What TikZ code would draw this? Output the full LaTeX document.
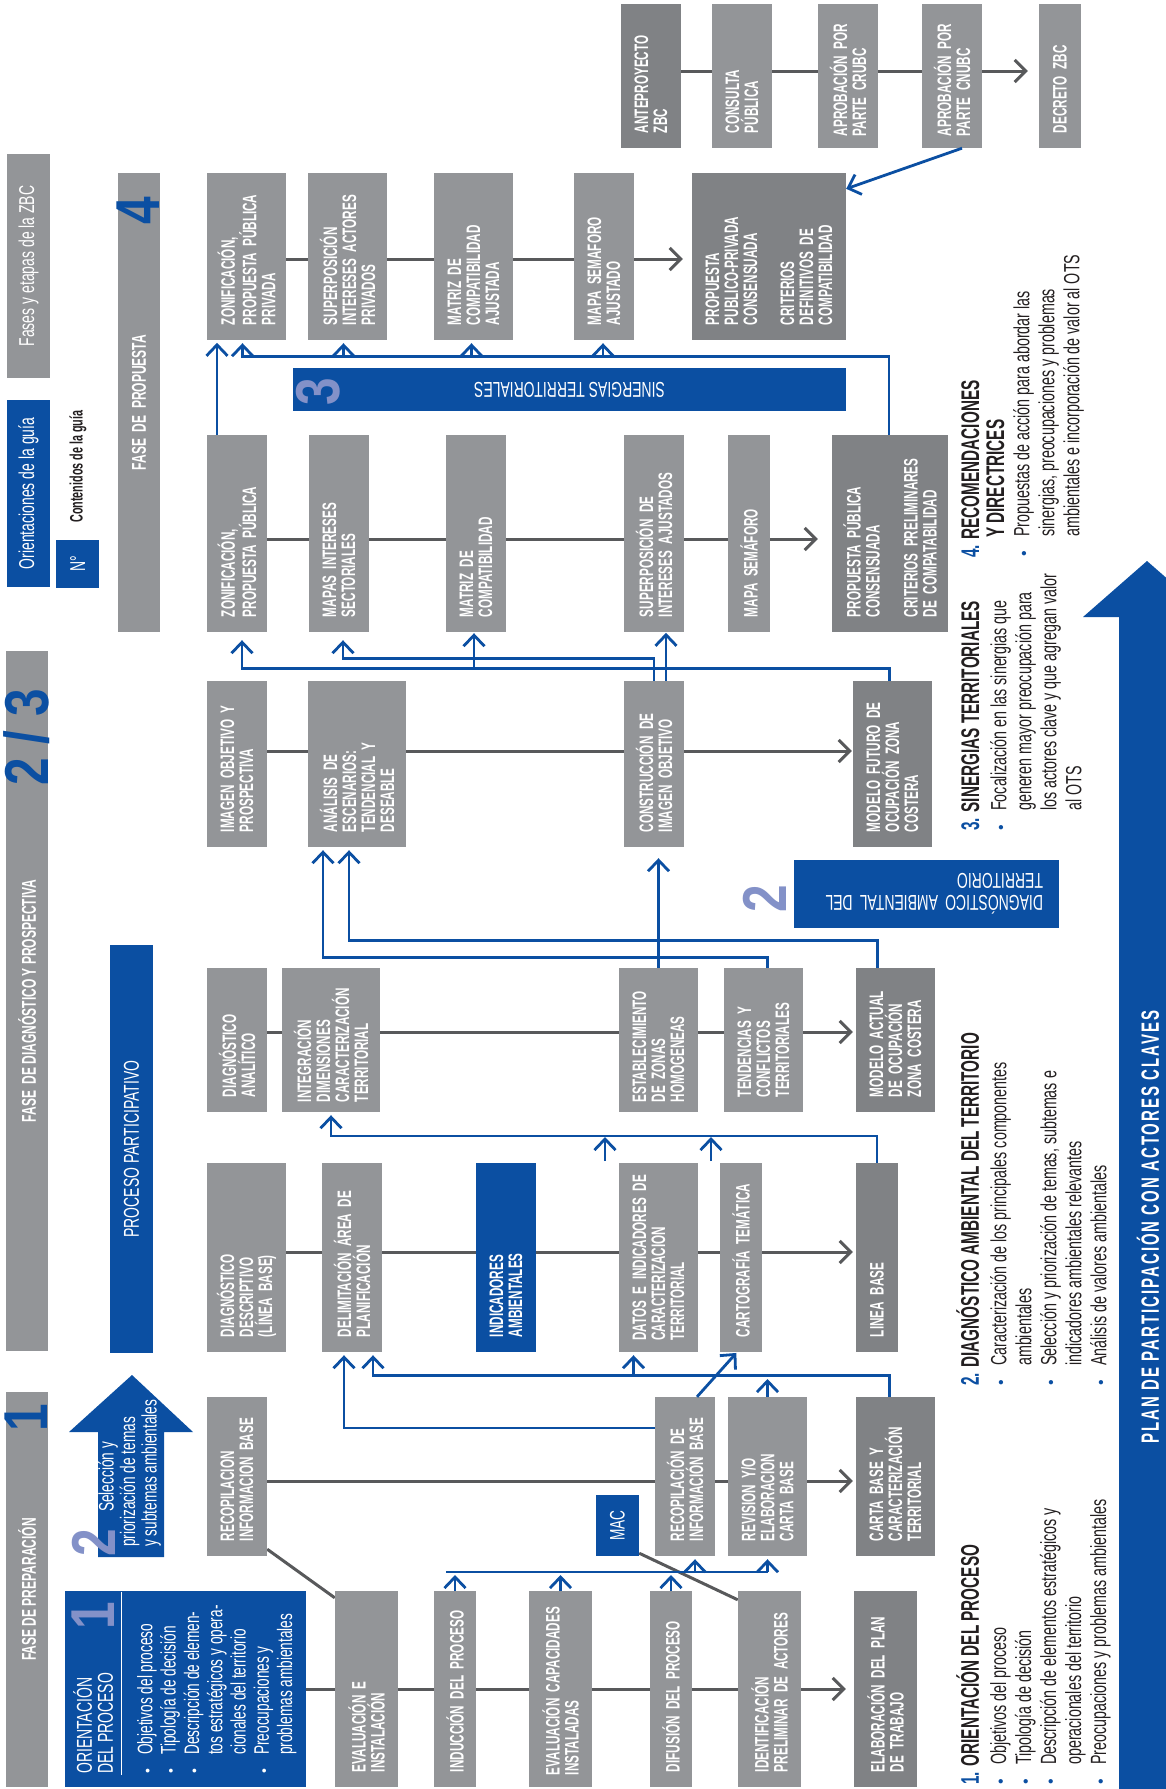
\documentclass[tikz,border=0pt]{standalone}
\usepackage{fontspec}
\setmainfont{Liberation Sans}
\newfontfamily\plainfont{Liberation Sans}
\newfontfamily\condb{Liberation Sans}[FakeStretch=0.6]
\newfontfamily\condl{Liberation Sans}[FakeStretch=0.65]
\newfontfamily\condn{Liberation Sans}[FakeStretch=0.8]
\newfontfamily\condsp{Liberation Sans}[FakeStretch=0.6,LetterSpace=8]
\usetikzlibrary{arrows.meta}
\pgfdeclarelayer{background}
\pgfsetlayers{background,main}

\definecolor{boxgray}{HTML}{939598}
\definecolor{boxdark}{HTML}{808285}
\definecolor{guiablue}{HTML}{0B4FA2}
\definecolor{numlilac}{HTML}{8391C8}
\definecolor{linegray}{HTML}{58595B}
\definecolor{inkblack}{HTML}{231F20}

\newcommand{\boxfont}{\condb\bfseries\fontsize{19.5}{19}\selectfont}
\newcommand{\barfont}{\condb\bfseries\fontsize{20}{20}\selectfont}
\newcommand{\lightfont}{\condl\fontsize{21.5}{22}\selectfont}
\newcommand{\headfont}{\condb\bfseries\fontsize{25.5}{25}\selectfont}
\newcommand{\bodyfont}{\condl\fontsize{22}{25}\selectfont}
\newcommand{\numfont}{\condn\bfseries\fontsize{62}{62}\selectfont}
\newcommand{\planfont}{\condsp\bfseries\fontsize{25}{25}\selectfont}
\newcommand{\itemdot}{\makebox[20pt][l]{\textcolor{guiablue}{\plainfont\fontsize{16}{16}\selectfont\textbullet}}}
\newcommand{\itemgap}{\hspace*{20pt}}
\newcommand{\wdot}{\makebox[19pt][l]{\plainfont\fontsize{14}{14}\selectfont\textbullet}}

\begin{document}
\begin{tikzpicture}[x=1pt, y=-1pt,
    gbox/.style={rotate=90, fill=boxgray, text=white, font=\boxfont, align=left, inner sep=0pt},
    dbox/.style={gbox, fill=boxdark},
    bbox/.style={gbox, fill=guiablue},
    bar/.style={rotate=90, inner sep=0pt, text=white, align=center},
    bignum/.style={rotate=90, inner sep=0pt, font=\numfont},
    txt/.style={rotate=90, inner sep=0pt, align=left, anchor=north west, text=inkblack},
    gline/.style={draw=linegray, line width=3pt},
    garrow/.style={gline, -{Straight Barb[length=11pt, width=22pt]}, shorten >=3pt},
    bline/.style={draw=guiablue, line width=2.8pt},
    barrow/.style={bline, -{Straight Barb[length=11pt, width=21pt]}, shorten >=3pt},
    % box heights (rows) and widths
    hA/.style={minimum width=144pt, text width=114pt},
    hB/.style={minimum width=167pt, text width=137pt},
    hC/.style={minimum width=197pt, text width=167pt},
    hD/.style={minimum width=166pt, text width=136pt},
    hE/.style={minimum width=144pt, text width=114pt},
    hF/.style={minimum width=189pt, text width=159pt},
    hG/.style={minimum width=159pt, text width=129pt},
    hH/.style={minimum width=196pt, text width=166pt},
    w42/.style={minimum height=42pt},
    w60/.style={minimum height=60pt},
    w63/.style={minimum height=63pt},
    w79/.style={minimum height=79pt},
    w98/.style={minimum height=98pt},
    w116/.style={minimum height=116pt},
    w154/.style={minimum height=154pt}]

\useasboundingbox (0,0) rectangle (1166,1789);

% rows and buses
\coordinate (rowA) at (0,71);
\coordinate (rowB) at (0,259);
\coordinate (rowC) at (0,539);
\coordinate (rowD) at (0,751);
\coordinate (rowE) at (0,1032);
\coordinate (rowF) at (0,1252);
\coordinate (rowG) at (0,1481);
\coordinate (rowH) at (0,1689);
\coordinate (busE) at (0,1136);
\coordinate (busF) at (0,1376);
\coordinate (busF2) at (0,1428);
\coordinate (busG) at (0,1572);
\coordinate (stubA) at (605,1161);
\coordinate (stubB) at (711,1161);

% left column: legend and phases
\node[bar, fill=boxgray, minimum width=224pt, minimum height=43pt, font=\lightfont] (fases) at (28.5,266) {Fases y etapas de la ZBC};
\node[bar, fill=guiablue, minimum width=187pt, minimum height=43pt, font=\lightfont] (guia) at (28.5,493.5) {Orientaciones de la guía};
\node[bar, fill=guiablue, minimum width=48pt, minimum height=43pt, font=\lightfont] (numbox) at (77.5,564) {N°};
\node[bar, text=inkblack, font=\condb\bfseries\fontsize{18}{18}\selectfont] (contenidos) at (78,466.5) {Contenidos de la guía};

\node[bar, fill=boxgray, minimum width=459pt, minimum height=42pt, font=\barfont] (fprop) at (139,402.5) {FASE\ \ DE\ \ PROPUESTA};
\node[bignum, text=guiablue] (n4) at (138.5,211) {4};
\node[bar, fill=boxgray, minimum width=700pt, minimum height=42pt, font=\barfont] (fdiag) at (27,1001) {FASE\ \ DE DIAGNÓSTICO Y PROSPECTIVA};
\node[bignum, text=guiablue] (n23) at (26.5,737.5) {2 / 3};
\node[bar, fill=guiablue, minimum width=408pt, minimum height=43pt, font=\lightfont] (proc) at (131.5,1149) {PROCESO PARTICIPATIVO};
\node[bar, fill=boxgray, minimum width=395pt, minimum height=42pt, font=\barfont] (fprep) at (27,1589.5) {FASE DE PREPARACIÓN};
\node[bignum, text=guiablue] (n1) at (26.5,1417.5) {1};

% arrow "seleccion y priorizacion"
\fill[guiablue] (132,1375) -- (193,1432) -- (164,1432) -- (164,1557) -- (98,1557) -- (98,1432) -- (69,1432) -- cycle;
\node[bignum, text=numlilac] (n2a) at (93.5,1542.5) {2};
\node[txt, text=white, font=\condl\fontsize{21}{21.5}\selectfont] (selec) at (98,1547) {\hspace*{35pt}Selección y\\priorización de temas\\y subtemas ambientales};

% orientacion del proceso
\node[rotate=90, fill=guiablue, minimum width=196pt, minimum height=241pt, inner sep=0pt] (orient) at (185.5,1689) {};
\node[bignum, text=numlilac] (n1b) at (93.5,1616) {1};
\node[txt, text=white, font=\condl\fontsize{21.5}{21}\selectfont] (orienttit) at (73,1774) {ORIENTACIÓN\\DEL PROCESO};
\draw[white, line width=1pt] ([xshift=57pt, yshift=-1pt]orient.north east) -- ([xshift=57pt, yshift=12pt]orient.north west);
\node[txt, text=white, font=\condl\fontsize{21}{23.3}\selectfont] (orientlist) at (137,1774) {\wdot Objetivos del proceso\\ \wdot Tipología de decisión\\ \wdot Descripción de elemen-\\ \hspace*{19pt}tos estratégicos y opera-\\ \hspace*{19pt}cionales del territorio\\ \wdot Preocupaciones y\\ \hspace*{19pt}problemas ambientales};

% row A: aprobacion
\node[dbox, hA, w60] (antep) at (651,76) {ANTEPROYECTO\\ZBC};
\node[gbox, hA, w60] (consulta) at (742,76) {CONSULTA\\PÚBLICA};
\node[gbox, hA, w60, text width=120pt] (crubc) at (848,76) {APROBACIÓN POR\\PARTE CRUBC};
\node[gbox, hA, w60, text width=120pt] (cnubc) at (952,76) {APROBACIÓN POR\\PARTE CNUBC};
\node[gbox, hA, w42] (decreto) at (1060,76) {DECRETO ZBC};

% row B
\node[gbox, hB, w79] (zonppp) at (246.5,256.5) {ZONIFICACIÓN,\\PROPUESTA PÚBLICA\\PRIVADA};
\node[gbox, hB, w79] (supiap) at (347.5,256.5) {SUPERPOSICIÓN\\INTERESES ACTORES\\PRIVADOS};
\node[gbox, hB, w79] (matajus) at (473.5,256.5) {MATRIZ DE\\COMPATIBILIDAD\\AJUSTADA};
\node[gbox, hB, w60] (mapaajus) at (604,256.5) {MAPA SEMAFORO\\AJUSTADO};
\node[dbox, hB, w154] (propppc) at (769,256.5) {PROPUESTA\\PUBLICO-PRIVADA\\CONSENSUADA\\[18pt]CRITERIOS\\DEFINITIVOS DE\\COMPATIBILIDAD};

% sinergias
\node[rotate=180, fill=guiablue, minimum width=553pt, minimum height=43pt, inner sep=0pt, text=white, font=\lightfont] (siner) at (569.5,389.5) {SINERGIAS TERRITORIALES};
\node[bignum, text=numlilac] (n3) at (318.5,391.5) {3};

% row C
\node[gbox, hC, w60] (zonpp) at (237,533.5) {ZONIFICACIÓN,\\PROPUESTA PÚBLICA};
\node[gbox, hC, w60] (mapasis) at (339,533.5) {MAPAS INTERESES\\SECTORIALES};
\node[gbox, hC, w60] (matriz) at (476,533.5) {MATRIZ DE\\COMPATIBILIDAD};
\node[gbox, hC, w60] (supia) at (654,533.5) {SUPERPOSICIÓN DE\\INTERESES AJUSTADOS};
\node[gbox, hC, w42] (semaforo) at (749,533.5) {MAPA SEMÁFORO};
\node[dbox, hC, w116] (proppc) at (890,533.5) {PROPUESTA PÚBLICA\\CONSENSUADA\\[19pt]CRITERIOS PRELIMINARES\\DE COMPATABILIDAD};

% row D
\node[gbox, hD, w60] (imgobj) at (237,764) {IMAGEN OBJETIVO Y\\PROSPECTIVA};
\node[gbox, hD, w98] (analisis) at (357,764) {ANÁLISIS DE\\ESCENARIOS:\\TENDENCIAL Y\\DESEABLE};
\node[gbox, hD, w60] (construccion) at (654,764) {CONSTRUCCIÓN DE\\IMAGEN OBJETIVO};
\node[dbox, hD, w79] (modfut) at (892.5,764) {MODELO FUTURO DE\\OCUPACIÓN ZONA\\COSTERA};

% diagnostico ambiental
\node[rotate=180, fill=guiablue, minimum width=265pt, minimum height=68pt, inner sep=0pt, text width=233pt, align=left, text=white, font=\condl\fontsize{21.5}{22}\selectfont] (diagbox) at (926.5,894) {DIAGNÓSTICO AMBIENTAL DEL\\TERRITORIO};
\node[bignum, text=numlilac] (n2b) at (765,899) {2};

% row E
\node[gbox, hE, w60] (diaganal) at (237,1040) {DIAGNÓSTICO\\ANALÍTICO};
\node[gbox, hE, w98, text width=124pt] (integracion) at (331,1040) {INTEGRACIÓN\\DIMENSIONES\\CARACTERIZACIÓN\\TERRITORIAL};
\node[gbox, hE, w79, text width=124pt] (establec) at (658.5,1040) {ESTABLECIMIENTO\\DE ZONAS\\HOMOGENEAS};
\node[gbox, hE, w79] (tendencias) at (763.5,1040) {TENDENCIAS Y\\CONFLICTOS\\TERRITORIALES};
\node[dbox, hE, w79] (modact) at (895.5,1040) {MODELO ACTUAL\\DE OCUPACIÓN\\ZONA COSTERA};

% row F
\node[gbox, hF, w79] (diagdesc) at (246.5,1257.5) {DIAGNÓSTICO\\DESCRIPTIVO\\(LÍNEA BASE)};
\node[gbox, hF, w60] (delimit) at (352,1257.5) {DELIMITACIÓN ÁREA DE\\PLANIFICACIÓN};
\node[bbox, hF, w60] (indic) at (506,1257.5) {INDICADORES\\AMBIENTALES};
\node[gbox, hF, w79, text width=166pt] (datos) at (658.5,1257.5) {DATOS E INDICADORES DE\\CARACTERIZACION\\TERRITORIAL};
\node[gbox, hF, w42] (carto) at (741,1257.5) {CARTOGRAFÍA TEMÁTICA};
\node[dbox, hF, w42] (lineabase) at (877,1257.5) {LINEA BASE};

% row G
\node[gbox, hG, w60] (recop) at (237,1476.5) {RECOPILACION\\INFORMACION BASE};
\node[rotate=90, fill=guiablue, minimum width=61pt, minimum height=43pt, inner sep=0pt, text=white, font=\condl\fontsize{21}{21}\selectfont] (mac) at (617.5,1525.5) {MAC};
\node[gbox, hG, w60] (recopde) at (685,1476.5) {RECOPILACIÓN DE\\INFORMACIÓN BASE};
\node[gbox, hG, w79] (revision) at (767.5,1476.5) {REVISION Y/O\\ELABORACION\\CARTA BASE};
\node[dbox, hG, w79] (cartabase) at (895.5,1476.5) {CARTA BASE Y\\CARACTERIZACIÓN\\TERRITORIAL};

% row H
\node[gbox, hH, w63] (evalinst) at (366.5,1689) {EVALUACIÓN E\\INSTALACIÓN};
\node[gbox, hH, w42] (induccion) at (455,1689) {INDUCCIÓN DEL PROCESO};
\node[gbox, hH, w63, text width=172pt] (evalcap) at (560.5,1689) {EVALUACIÓN CAPACIDADES\\INSTALADAS};
\node[gbox, hH, w42] (difusion) at (671,1689) {DIFUSIÓN DEL PROCESO};
\node[gbox, hH, w63] (identif) at (769.5,1689) {IDENTIFICACIÓN\\PRELIMINAR DE ACTORES};
\node[dbox, hH, w63] (elabor) at (885.5,1689) {ELABORACIÓN DEL PLAN\\DE TRABAJO};

% gray flow lines behind the boxes
\begin{pgfonlayer}{background}
  \draw[gline] (antep.center |- rowA) -- (cnubc.center |- rowA);
  \draw[gline] (zonppp.center |- rowB) -- (mapaajus.center |- rowB);
  \draw[gline] (zonpp.center |- rowC) -- (semaforo.center |- rowC);
  \draw[gline] (imgobj.center |- rowD) -- (construccion.center |- rowD);
  \draw[gline] (diaganal.center |- rowE) -- (tendencias.center |- rowE);
  \draw[gline] (diagdesc.center |- rowF) -- (carto.center |- rowF);
  \draw[gline] (recop.center |- rowG) -- (revision.center |- rowG);
  \draw[gline] (orient.center |- rowH) -- (identif.center |- rowH);
  \draw[gline] ([yshift=7pt]recop.south west) -- ([yshift=-7pt]evalinst.north east);
  \draw[gline] ([yshift=3pt]mac.south west) -- ([yshift=-9pt]identif.north east);
\end{pgfonlayer}

\draw[garrow, shorten >=11pt] (cnubc.south |- rowA) -- (decreto.north |- rowA);
\draw[garrow, shorten >=9pt] (mapaajus.south |- rowB) -- (propppc.north |- rowB);
\draw[garrow, shorten >=14pt] (semaforo.south |- rowC) -- (proppc.north |- rowC);
\draw[garrow, shorten >=1pt] (construccion.south |- rowD) -- (modfut.north |- rowD);
\draw[garrow] (tendencias.south |- rowE) -- (modact.north |- rowE);
\draw[garrow] (carto.south |- rowF) -- (lineabase.north |- rowF);
\draw[garrow] (revision.south |- rowG) -- (cartabase.north |- rowG);
\draw[garrow, shorten >=8pt] (identif.south |- rowH) -- (elabor.north |- rowH);

% blue feedback lines
\draw[barrow, shorten >=0pt] ([xshift=10pt]cnubc.west) -- ([yshift=-16pt]propppc.south east);
\draw[barrow] ([xshift=-1pt]proppc.east) -- ++(0,-78) -| ([xshift=-4pt]zonppp.west);
\draw[barrow] ([xshift=-4pt]supiap.west) ++(0,17) -- ([xshift=-4pt]supiap.west);
\draw[barrow] ([xshift=-2pt]matajus.west) ++(0,17) -- ([xshift=-2pt]matajus.west);
\draw[barrow] ([xshift=-1pt]mapaajus.west) ++(0,17) -- ([xshift=-1pt]mapaajus.west);
\draw[barrow] ([xshift=-20pt]zonpp.east) -- ++(0,-95);

\draw[barrow, shorten >=8pt] ([xshift=-3pt]modfut.east) -- ++(0,-12) -| ([xshift=5pt]zonpp.west);
\draw[barrow, shorten >=1pt] ([xshift=-2pt]matriz.west) ++(0,37) -- ([xshift=-2pt]matriz.west);
\draw[barrow, shorten >=8pt] (construccion.east) -- ++(0,-22) -| ([xshift=4pt]mapasis.west);
\draw[barrow, shorten >=1pt] ([xshift=12pt]construccion.east) -- ++(0,-49);

\draw[barrow] ([xshift=-18pt]modact.east) -- ++(0,-27) -| ([xshift=-8pt]analisis.west);
\draw[barrow] ([xshift=4pt]tendencias.east) -- ++(0,-10) -| ([xshift=-34pt]analisis.west);
\draw[barrow, shorten >=11pt] (establec.east) -- (establec.east |- construccion.west);

\draw[barrow] (lineabase.east) -- (lineabase.east |- busE) -| (integracion.west);
\draw[barrow, shorten >=1pt] (stubA) -- (stubA |- busE);
\draw[barrow, shorten >=1pt] (stubB) -- (stubB |- busE);

\draw[barrow] ([xshift=-6pt]cartabase.east) -- ++(0,-21) -| ([xshift=21pt]delimit.west);
\draw[barrow] ([xshift=-25pt]datos.west) ++(0,24) -- ([xshift=-25pt]datos.west);
\draw[barrow] (revision.east) -- (revision.east |- busF);
\draw[barrow] (recopde.north |- busF2) -| ([xshift=-8pt]delimit.west);
\draw[barrow, shorten >=1pt] ([xshift=12pt]recopde.east) -- ([xshift=-4pt]carto.west);

\draw[bline] (induccion.east |- busG) ++(-9,0) -- (revision.west |- busG);
\draw[barrow] (induccion.east) -- (induccion.east |- busG);
\draw[barrow] (evalcap.east) -- (evalcap.east |- busG);
\draw[barrow] (difusion.east) -- (difusion.east |- busG);
\draw[barrow] ([xshift=10pt]recopde.west) ++(0,16) -- ([xshift=10pt]recopde.west);
\draw[barrow] (revision.west |- busG) -- (revision.west);

% right column
\node[txt, font=\headfont] (head4) at (961,558) {\textcolor{guiablue}{4.} RECOMENDACIONES\\\hspace*{20pt}Y DIRECTRICES};
\node[txt, font=\bodyfont] (body4) at (1013,557) {\itemdot Propuestas de acción para abordar las\\ \itemgap sinergias, preocupaciones y problemas\\ \itemgap ambientales e incorporación de valor al OTS};
\node[txt, font=\headfont] (head3) at (961,831) {\textcolor{guiablue}{3.} SINERGIAS TERRITORIALES};
\node[txt, font=\bodyfont] (body3) at (990,831) {\itemdot Focalización en las sinergias que\\ \itemgap generen mayor preocupación para\\ \itemgap los actores clave y que agregan valor\\ \itemgap al OTS};
\node[txt, font=\headfont] (head2) at (956,1386) {\textcolor{guiablue}{2.} DIAGNÓSTICO AMBIENTAL DEL TERRITORIO};
\node[txt, font=\bodyfont] (body2) at (990,1386) {\itemdot Caracterización de los principales componentes\\ \itemgap ambientales\\ \itemdot Selección y priorización de temas, subtemas e\\ \itemgap indicadores ambientales relevantes\\ \itemdot Análisis de valores ambientales};
\node[txt, font=\headfont] (head1) at (956,1785) {\textcolor{guiablue}{1.} ORIENTACIÓN DEL PROCESO};
\node[txt, font=\bodyfont] (body1) at (990,1785) {\itemdot Objetivos del proceso\\ \itemdot Tipología de decisión\\ \itemdot Descripción de elementos estratégicos y\\ \itemgap operacionales del territorio\\ \itemdot Preocupaciones y problemas ambientales};

% plan de participacion
\begin{scope}
  \clip (0,0) rectangle (1166,1789);
  \fill[guiablue] (1147,561) -- (1211,617) -- (1175,617) -- (1175,1789) -- (1119,1789) -- (1119,617) -- (1083,617) -- cycle;
\end{scope}
\node[rotate=90, inner sep=0pt, text=white, font=\planfont] (plan) at (1148,1227) {PLAN DE PARTICIPACIÓN CON ACTORES CLAVES};

\end{tikzpicture}
\end{document}
